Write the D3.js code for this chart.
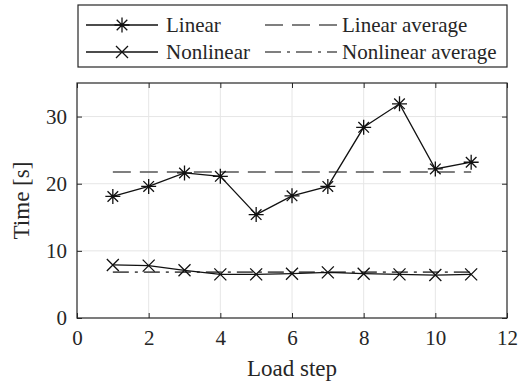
<!DOCTYPE html>
<html>
<head>
<meta charset="utf-8">
<script src="https://cdn.jsdelivr.net/npm/d3@7"></script>
<style>
body { margin: 0; background: #fff; }
</style>
</head>
<body>
<div id="chart"></div>
<script>
var steps = [1, 2, 3, 4, 5, 6, 7, 8, 9, 10, 11];
var linear = [18.1, 19.6, 21.6, 21.1, 15.4, 18.2, 19.6, 28.4, 31.9, 22.2, 23.2];
var nonlinear = [7.9, 7.8, 7.1, 6.5, 6.5, 6.6, 6.8, 6.6, 6.5, 6.4, 6.5];
var xTicks = [0, 2, 4, 6, 8, 10, 12];
var yTicks = [0, 10, 20, 30];
var seriesNames = ["Linear", "Nonlinear", "Linear average", "Nonlinear average"];

var linAvg = d3.mean(linear);
var nonAvg = d3.mean(nonlinear);

var W = 520, H = 384;
var margin = {top: 83, right: 13, bottom: 66, left: 77},
    width = W - margin.left - margin.right,
    height = H - margin.top - margin.bottom;

var svg = d3.select("#chart").append("svg")
  .attr("width", W).attr("height", H);

var g = svg.append("g")
  .attr("transform", "translate(" + margin.left + "," + margin.top + ")");

var x = d3.scaleLinear().domain([0, 12]).range([0, width]);
var y = d3.scaleLinear().domain([0, 35]).range([height, 0]);

// grid
g.selectAll(".gx").data(xTicks.slice(1, -1)).enter().append("line")
  .attr("x1", d => x(d)).attr("x2", d => x(d))
  .attr("y1", 0).attr("y2", height)
  .attr("stroke", "#e6e6e6").attr("stroke-width", 1);
g.selectAll(".gy").data(yTicks.slice(1)).enter().append("line")
  .attr("x1", 0).attr("x2", width)
  .attr("y1", d => y(d)).attr("y2", d => y(d))
  .attr("stroke", "#e6e6e6").attr("stroke-width", 1);

// axes (ticks inside, box on)
var axStyle = function(sel) {
  sel.select(".domain").remove();
  sel.selectAll("line").attr("stroke", "#262626");
  sel.selectAll("text").style("font-size", "21px");
};
g.append("g").attr("transform", "translate(0," + height + ")")
  .call(d3.axisBottom(x).tickValues(xTicks).tickSizeInner(-5).tickPadding(12))
  .call(axStyle);
g.append("g")
  .call(d3.axisLeft(y).tickValues(yTicks).tickSizeInner(-5).tickPadding(10))
  .call(axStyle);
g.append("g")
  .call(d3.axisTop(x).tickValues(xTicks).tickSizeInner(-5).tickFormat(""))
  .call(axStyle);
g.append("g").attr("transform", "translate(" + width + ",0)")
  .call(d3.axisRight(y).tickValues(yTicks).tickSizeInner(-5).tickFormat(""))
  .call(axStyle);
g.append("rect").attr("width", width).attr("height", height)
  .attr("fill", "none").attr("stroke", "#262626").attr("stroke-width", 1.2);

// average lines
g.append("line")
  .attr("x1", x(steps[0])).attr("x2", x(steps[steps.length - 1]))
  .attr("y1", y(linAvg)).attr("y2", y(linAvg))
  .attr("stroke", "#555").attr("stroke-width", 1.6)
  .attr("stroke-dasharray", "18,9");
g.append("line")
  .attr("x1", x(steps[0])).attr("x2", x(steps[steps.length - 1]))
  .attr("y1", y(nonAvg)).attr("y2", y(nonAvg))
  .attr("stroke", "#555").attr("stroke-width", 1.6)
  .attr("stroke-dasharray", "16,6,3,6");

var line = d3.line().x((d, i) => x(steps[i])).y(d => y(d));

function star(r) {
  var a = r * 0.707;
  return "M" + (-r) + ",0L" + r + ",0M0," + (-r) + "L0," + r +
    "M" + (-a) + "," + (-a) + "L" + a + "," + a + "M" + (-a) + "," + a + "L" + a + "," + (-a);
}
function cross(r) {
  return "M" + (-r) + "," + (-r) + "L" + r + "," + r + "M" + (-r) + "," + r + "L" + r + "," + (-r);
}

g.append("path").datum(linear).attr("d", line)
  .attr("fill", "none").attr("stroke", "#111").attr("stroke-width", 1.3);
g.append("path").datum(nonlinear).attr("d", line)
  .attr("fill", "none").attr("stroke", "#111").attr("stroke-width", 1.3);

g.selectAll(".ml").data(linear).enter().append("path")
  .attr("transform", (d, i) => "translate(" + x(steps[i]) + "," + y(d) + ")")
  .attr("d", star(7.5))
  .attr("stroke", "#111").attr("stroke-width", 1.3).attr("fill", "none");
g.selectAll(".mn").data(nonlinear).enter().append("path")
  .attr("transform", (d, i) => "translate(" + x(steps[i]) + "," + y(d) + ")")
  .attr("d", cross(6))
  .attr("stroke", "#111").attr("stroke-width", 1.3).attr("fill", "none");

// axis labels
svg.append("text")
  .attr("x", margin.left + width / 2).attr("y", 376)
  .attr("text-anchor", "middle").style("font-size", "23px")
  .text("Load step");
svg.append("text")
  .attr("transform", "translate(29," + (margin.top + height / 2) + ") rotate(-90)")
  .attr("text-anchor", "middle").style("font-size", "23px")
  .text("Time [s]");

// legend
var lg = svg.append("g");
lg.append("rect").attr("x", 78).attr("y", 5).attr("width", 429).attr("height", 62)
  .attr("fill", "#fff").attr("stroke", "#262626").attr("stroke-width", 1.2);
var legendItems = [
  {name: seriesNames[0], col: 0, row: 0, dash: null, mark: "star"},
  {name: seriesNames[1], col: 0, row: 1, dash: null, mark: "cross"},
  {name: seriesNames[2], col: 1, row: 0, dash: "18,9", mark: null},
  {name: seriesNames[3], col: 1, row: 1, dash: "16,6,3,6", mark: null}
];
var colX = [86, 265], rowY = [25, 52];
legendItems.forEach(function(it) {
  var x0 = colX[it.col], yy = rowY[it.row];
  lg.append("line").attr("x1", x0).attr("x2", x0 + 72).attr("y1", yy).attr("y2", yy)
    .attr("stroke", it.dash ? "#555" : "#111").attr("stroke-width", it.dash ? 1.6 : 1.3)
    .attr("stroke-dasharray", it.dash);
  if (it.mark) {
    lg.append("path").attr("transform", "translate(" + (x0 + 36) + "," + yy + ")")
      .attr("d", it.mark === "star" ? star(7.5) : cross(6))
      .attr("stroke", "#111").attr("stroke-width", 1.3).attr("fill", "none");
  }
  lg.append("text").attr("x", x0 + (it.col ? 77 : 80)).attr("y", yy + 7)
    .style("font-size", "21px").text(it.name);
});

svg.selectAll("text")
  .attr("font-family", null)
  .style("font-family", "'Liberation Serif'")
  .style("fill", "#262626");
</script>
</body>
</html>
